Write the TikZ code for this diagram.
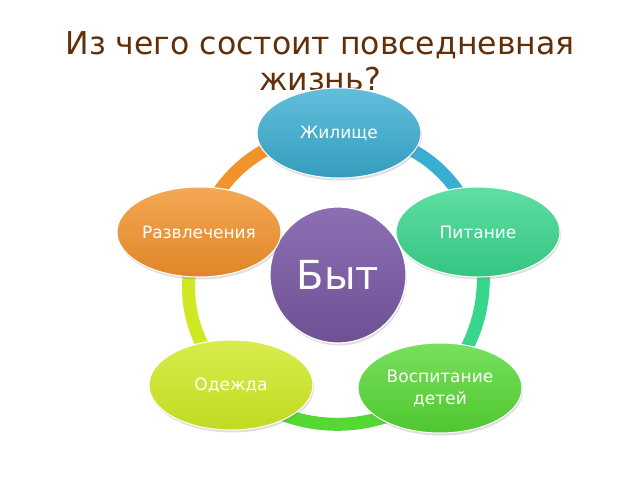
\documentclass[tikz,border=0pt]{standalone}
\usepackage{fontspec}
\setmainfont{DejaVu Sans}
\usepackage{xcolor}
\usepackage{tikz}
\usetikzlibrary{shapes.geometric,shadows,backgrounds}

\definecolor{titlebrown}{RGB}{96,48,10}
\definecolor{zhil}{RGB}{58,174,210}
\definecolor{pit}{RGB}{56,214,140}
\definecolor{vosp}{RGB}{86,216,52}
\definecolor{odezh}{RGB}{206,232,34}
\definecolor{razv}{RGB}{242,146,42}
\definecolor{byt}{RGB}{124,92,168}

\begin{document}
\begin{tikzpicture}[x=1pt,y=1pt,
  title/.style={anchor=base,text=titlebrown,font=\fontsize{31.5}{37}\selectfont},
  part/.style={ellipse,minimum width=164pt,minimum height=90pt,inner sep=0pt,
    draw=white,line width=1pt,text=white,align=center,
    font=\fontsize{17}{22}\selectfont,
    drop shadow={opacity=0.25,shadow xshift=1pt,shadow yshift=-2.5pt}},
  ring/.style={line width=13pt}]
\useasboundingbox (0,0) rectangle (640,-480);
\node (t1) at (320,-54) [title] {Из чего состоит повседневная};
\node (t2) at (320,-90) [title] {жизнь?};
\node (0) at (338,-275) [circle,minimum size=136pt,inner sep=0pt,draw=white,line width=1.2pt,
  top color=byt!88!white,bottom color=byt!88!black,text=white,font=\fontsize{40}{46}\selectfont,
  drop shadow={opacity=0.25,shadow xshift=1pt,shadow yshift=-2.5pt}] {Быт};
\node (1) at (339,-133) [part,top color=zhil!80!white,bottom color=zhil!90!black] {Жилище};
\node (2) at (478,-232) [part,top color=pit!80!white,bottom color=pit!92!black] {Питание};
\node (3) at (440,-388) [part,top color=vosp!80!white,bottom color=vosp!92!black] {Воспитание\\детей};
\node (4) at (231,-385) [part,top color=odezh!80!white,bottom color=odezh!94!black] {Одежда};
\node (5) at (199,-232) [part,top color=razv!80!white,bottom color=razv!92!black] {Развлечения};
\begin{scope}[on background layer]
\draw [ring,razv] (5.center) to[bend left=36] (1.center);
\draw [ring,zhil] (1.center) to[bend left=36] (2.center);
\draw [ring,pit] (2.center) to[bend left=26] (3.center);
\draw [ring,vosp] (3.center) to[bend left=38] (4.center);
\draw [ring,odezh] (4.center) to[bend left=32] (5.center);
\end{scope}
\end{tikzpicture}
\end{document}
